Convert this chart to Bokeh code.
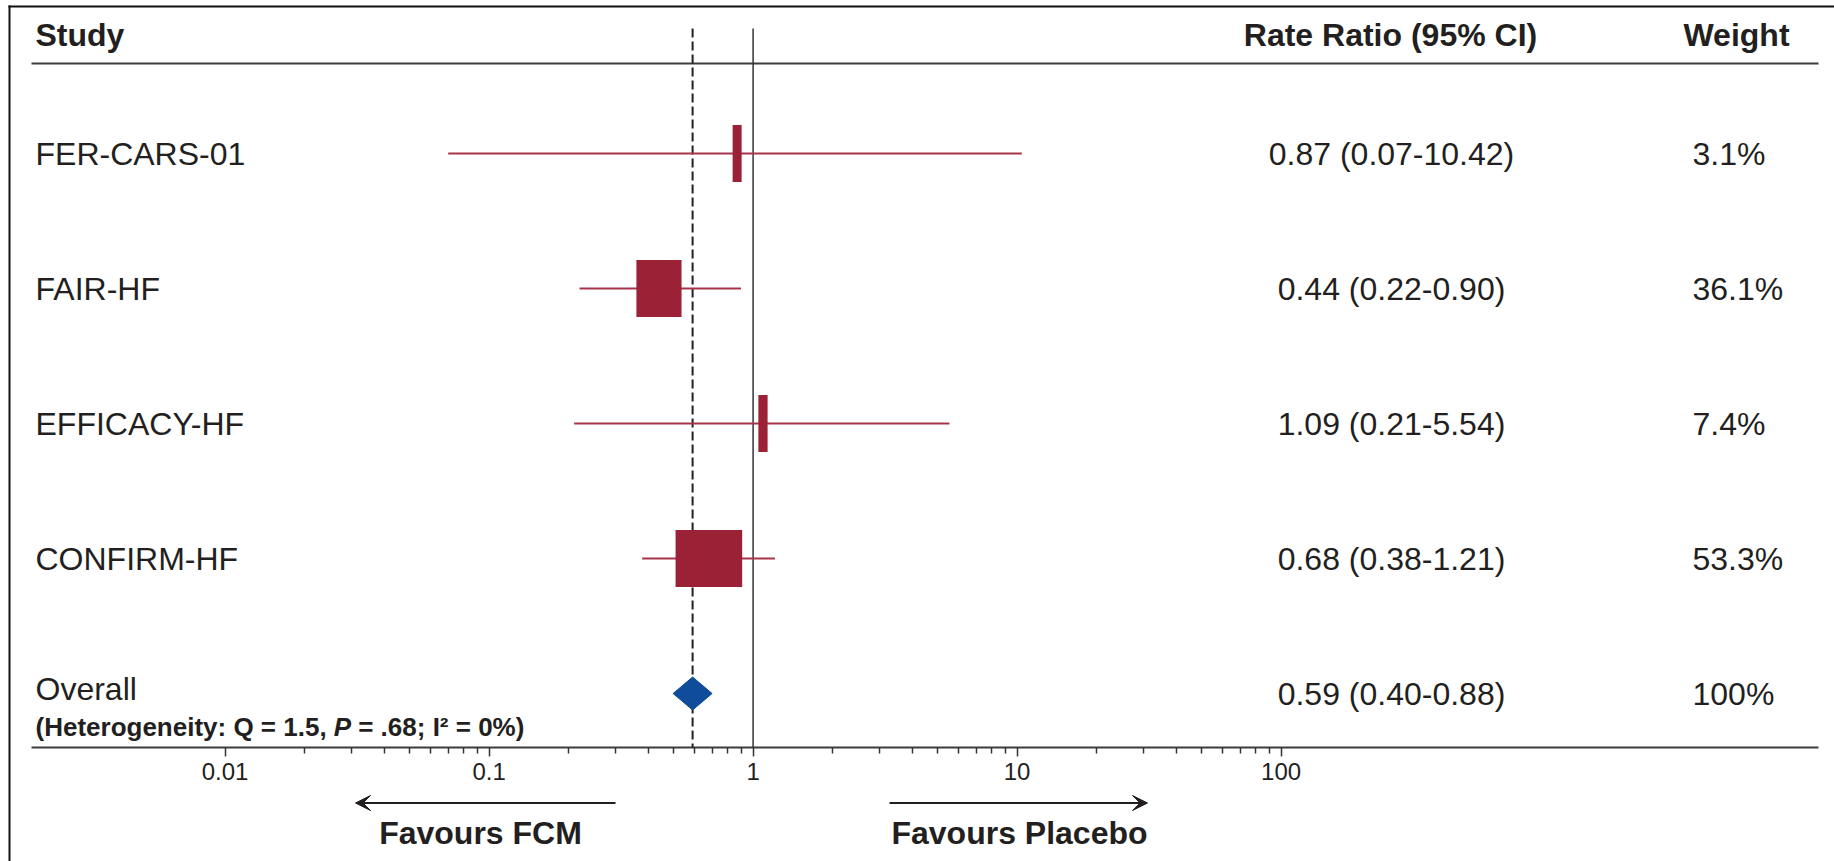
from bokeh.plotting import figure
from bokeh.models import Range1d, FixedTicker, VeeHead, Arrow, ColumnDataSource
from bokeh.embed import file_html
from bokeh.resources import INLINE
from bokeh.core.properties import value

# ---------------- data ----------------
studies = ["FER-CARS-01", "FAIR-HF", "EFFICACY-HF", "CONFIRM-HF"]
rate_ratio = [0.87, 0.44, 1.09, 0.68]
ci_low = [0.07, 0.22, 0.21, 0.38]
ci_high = [10.42, 0.90, 5.54, 1.21]
weights = [3.1, 36.1, 7.4, 53.3]

overall_label = "Overall"
overall_rr = 0.59
overall_low = 0.40
overall_high = 0.88
overall_weight = "100%"
het_parts = ["(Heterogeneity: Q = 1.5,", "P", "= .68; I\u00b2 = 0%)"]

header_study = "Study"
header_rr = "Rate Ratio (95% CI)"
header_weight = "Weight"
favours_left = "Favours FCM"
favours_right = "Favours Placebo"

tick_values = [0.01, 0.1, 1, 10, 100]
tick_labels = ["0.01", "0.1", "1", "10", "100"]

# ---------------- layout helpers ----------------
W, H = 1834, 861
PX_ONE = 752.6      # page x of rate ratio 1
DECADE = 264.0      # pixels per decade


def fx(page_x):
    return 10 ** ((page_x - PX_ONE) / DECADE)


ROW0, ROW_STEP = 153, 135
rows = [ROW0 + ROW_STEP * i for i in range(len(studies))]
overall_y = ROW0 + ROW_STEP * len(studies)
AXIS_Y = 747
TOP_Y = 28

FONT = value("Liberation Sans")
TXT = "#231f20"
BOX = "#9b2136"
CI = "#a8344b"
BLUE = "#0f4c9a"

p = figure(width=W, height=H, x_axis_type="log",
           x_range=Range1d(fx(0), fx(W)), y_range=Range1d(H, 0),
           output_backend="svg", toolbar_location=None, y_axis_location=None,
           min_border=0)
p.grid.visible = False
p.outline_line_color = None
p.background_fill_color = "white"
p.border_fill_color = "white"

# border (top + left)
p.segment(x0=[fx(8), fx(9)], y0=[6, 5], x1=[fx(W), fx(9)], y1=[6, H],
          line_color="#111111", line_width=2)
# header and axis rules
p.segment(x0=[fx(31), fx(31)], y0=[63, AXIS_Y], x1=[fx(1818), fx(1818)], y1=[63, AXIS_Y],
          line_color="#3c3c3c", line_width=2)

# reference lines
p.segment(x0=[1], y0=[TOP_Y], x1=[1], y1=[AXIS_Y], line_color="#333333", line_width=1.5)
p.segment(x0=[overall_rr], y0=[TOP_Y], x1=[overall_rr], y1=[AXIS_Y],
          line_color=TXT, line_width=2, line_dash="9 4")

# confidence intervals and boxes
box_w = [max(9.0, 1.25 * w) for w in weights]
src = ColumnDataSource(dict(study=studies, rr=rate_ratio, lo=ci_low, hi=ci_high, y=rows,
                            bw=box_w,
                            rrtxt=[f"{r:.2f} ({l:.2f}-{h:.2f})" for r, l, h in zip(rate_ratio, ci_low, ci_high)],
                            wtxt=[f"{w:.1f}%" for w in weights]))
p.segment(x0="lo", y0="y", x1="hi", y1="y", source=src, line_color=CI, line_width=2)
p.rect(x="rr", y="y", width="bw", height=57, width_units="screen", height_units="screen",
       source=src, fill_color=BOX, line_color=None)

# overall diamond
f = 10 ** (19.5 / DECADE)
p.patch(x=[overall_rr / f, overall_rr, overall_rr * f, overall_rr],
        y=[overall_y, overall_y - 16.5, overall_y, overall_y + 16.5],
        fill_color=BLUE, line_color=BLUE, line_width=1)


# texts
def txt(x, y, text, size, style="normal", align="left", **kw):
    p.text(x=x, y=y, text=text, text_font=FONT, text_font_size=value(size),
           text_font_style=style, text_align=align, text_baseline="middle",
           text_color=TXT, **kw)


txt([fx(35)], [34], [header_study], "32px", "bold")
txt([fx(1390)], [34], [header_rr], "32px", "bold", align="center")
txt([fx(1736)], [34], [header_weight], "32px", "bold", align="center")

p.text(x=fx(35), y="y", text="study", source=src, text_font=FONT, text_font_size=value("32px"),
       text_align="left", text_baseline="middle", text_color=TXT)
p.text(x=fx(1391), y="y", text="rrtxt", source=src, text_font=FONT, text_font_size=value("32px"),
       text_align="center", text_baseline="middle", text_color=TXT)
p.text(x=fx(1692), y="y", text="wtxt", source=src, text_font=FONT, text_font_size=value("32px"),
       text_align="left", text_baseline="middle", text_color=TXT)

txt([fx(35)], [688], [overall_label], "32px")
txt([fx(1391)], [overall_y], [f"{overall_rr:.2f} ({overall_low:.2f}-{overall_high:.2f})"], "32px", align="center")
txt([fx(1692)], [overall_y], [overall_weight], "32px")

w1 = 291.0
w2 = 17.3
sp = 7.2
txt([fx(35)], [726], [het_parts[0]], "26px", "bold")
txt([fx(35)], [726], [het_parts[1]], "26px", "bold italic", x_offset=w1 + sp)
txt([fx(35)], [726], [het_parts[2]], "26px", "bold", x_offset=w1 + sp + w2 + sp)

txt([fx(480)], [832], [favours_left], "32px", "bold", align="center")
txt([fx(1019)], [832], [favours_right], "32px", "bold", align="center")

# arrows
for xs, xe in [(fx(615), fx(355)), (fx(889), fx(1147))]:
    p.add_layout(Arrow(x_start=xs, y_start=802.5, x_end=xe, y_end=802.5,
                       line_color=TXT, line_width=2,
                       end=VeeHead(size=15, fill_color=TXT, line_color=TXT, line_width=1)))

# axis
minor = [m * 10 ** e for e in range(-2, 2) for m in range(2, 10)]
ax = p.xaxis[0]
ax.fixed_location = AXIS_Y
ax.ticker = FixedTicker(ticks=tick_values, minor_ticks=minor)
ax.major_label_overrides = {v: l for v, l in zip(tick_values, tick_labels)}
ax.axis_line_color = None
ax.major_tick_in = 0
ax.major_tick_out = 9
ax.minor_tick_in = 0
ax.minor_tick_out = 6
ax.major_tick_line_color = "#333333"
ax.minor_tick_line_color = "#333333"
ax.major_tick_line_width = 1.5
ax.minor_tick_line_width = 1.5
ax.major_label_text_font = "Liberation Sans"
ax.major_label_text_font_size = "24px"
ax.major_label_text_color = TXT
ax.major_label_standoff = 6

open("out.html", "w").write(file_html(p, INLINE))
